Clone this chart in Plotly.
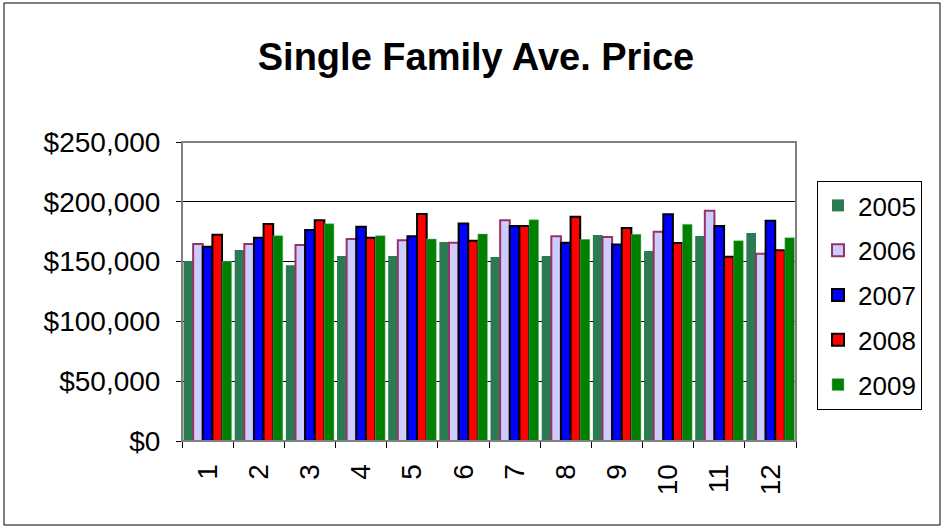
import plotly.graph_objects as go

months = ["1", "2", "3", "4", "5", "6", "7", "8", "9", "10", "11", "12"]
y2005 = [150500, 159700, 147000, 154700, 154700, 166400, 153800, 154700, 172200, 158900, 171400, 173900]
y2006 = [164700, 164700, 163900, 168900, 167800, 165800, 184500, 171100, 170600, 175000, 192600, 156600]
y2007 = [162500, 170000, 176400, 179200, 171100, 181900, 179800, 165800, 164200, 189500, 179800, 184200]
y2008 = [172500, 181400, 184500, 170000, 189800, 167500, 179800, 187600, 178100, 165600, 154100, 159400]
y2009 = [150000, 171700, 181700, 171700, 168900, 173100, 185000, 168600, 172800, 181200, 167500, 170000]

series = [
    ("2005", y2005, "#2A7A52", "#2A7A52", 0),
    ("2006", y2006, "#CCCCFF", "#993366", 2),
    ("2007", y2007, "#0000FF", "#000000", 2),
    ("2008", y2008, "#FF0000", "#000000", 2),
    ("2009", y2009, "#008000", "#7FBF7F", 0.5),
]

fig = go.Figure()
for name, vals, fill, line, lw in series:
    fig.add_trace(go.Bar(
        name=name, x=months, y=vals,
        marker=dict(color=fill, line=dict(color=line, width=lw)),
        legendgroup=name,
    ))

W, H = 943, 529
L, R, T, B = 182, 796, 142, 441
pw, ph = R - L, B - T

fig.update_layout(
    width=W, height=H,
    margin=dict(l=L, r=W - R, t=T, b=H - B, autoexpand=False),
    paper_bgcolor="white", plot_bgcolor="white",
    font=dict(family="Liberation Sans, Arial, sans-serif", color="black", size=28),
    title=dict(text="<b>Single Family Ave. Price</b>", x=476 / W, xanchor="center",
               y=1 - 57 / H, yanchor="middle", font=dict(size=38)),
    barmode="group", bargap=0.06, bargroupgap=0,
    showlegend=True,
    legend=dict(x=(817 - L) / pw, y=(B - 181) / ph, xanchor="left", yanchor="top",
                bordercolor="black", borderwidth=1, bgcolor="white",
                font=dict(size=26), tracegroupgap=8, itemwidth=30),
    xaxis=dict(type="category", tickangle=-90, ticks="outside", tickson="boundaries",
               ticklen=6, tickcolor="black", showline=True, linecolor="black",
               linewidth=1, mirror=False, showgrid=False, tickfont=dict(size=28),
               ticklabelstandoff=11),
    yaxis=dict(range=[0, 250000], dtick=50000, tickformat="$,.0f", ticks="outside",
               ticklen=5, tickcolor="black", showline=True, linecolor="black",
               linewidth=1, showgrid=True, gridcolor="black", gridwidth=1,
               zeroline=False, tickfont=dict(size=28), ticklabelstandoff=10),
)

# plot area border (gray) and outer chart border
fig.add_shape(type="rect", xref="paper", yref="paper", x0=0, x1=1, y0=0, y1=1,
              line=dict(color="#808080", width=2), layer="above")
fig.add_shape(type="rect", xref="paper", yref="paper",
              x0=(4 - L) / pw, x1=(940 - L) / pw, y0=(B - 525) / ph, y1=(B - 3) / ph,
              line=dict(color="black", width=1))

fig.write_html("out.html", config={"displayModeBar": False},
               post_script="document.body.style.margin='0';")
